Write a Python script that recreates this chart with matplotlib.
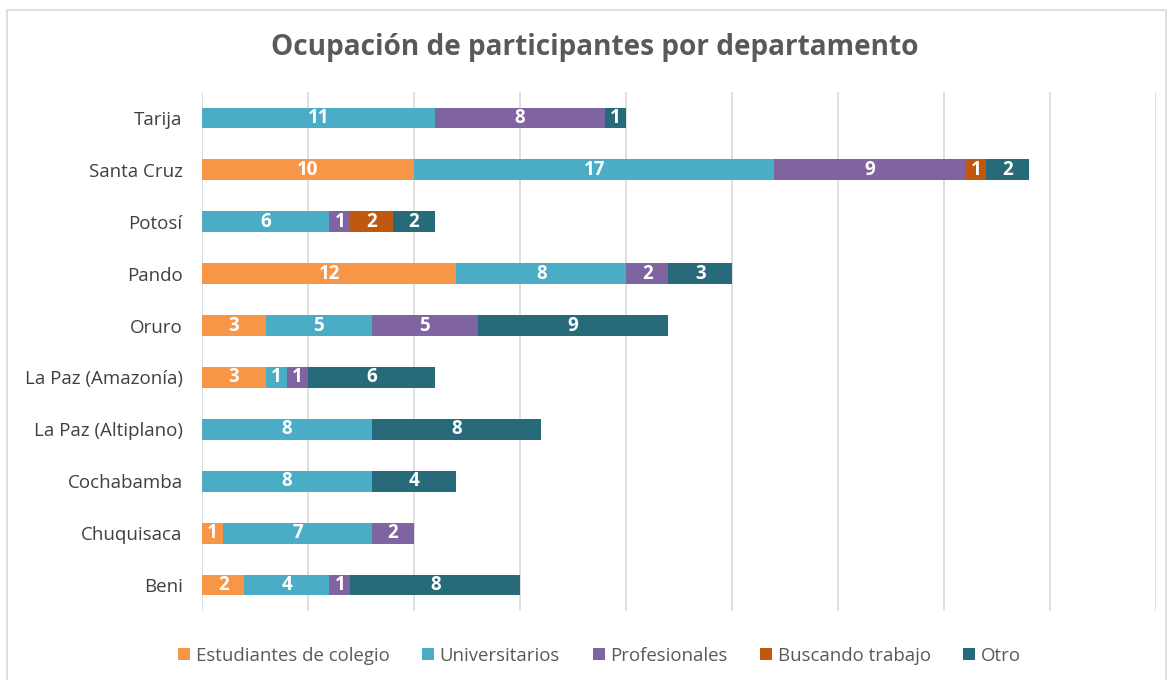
import numpy as np
import matplotlib
matplotlib.use("Agg")
from matplotlib import pyplot as plt
from matplotlib.patches import Rectangle

plt.rcParams['font.family'] = ['Open Sans', 'DejaVu Sans']

# departamentos, de abajo hacia arriba
departamentos = ["Beni", "Chuquisaca", "Cochabamba", "La Paz (Altiplano)",
                 "La Paz (Amazonía)", "Oruro", "Pando", "Potosí",
                 "Santa Cruz", "Tarija"]
series = ["Estudiantes de colegio", "Universitarios", "Profesionales",
          "Buscando trabajo", "Otro"]
estudiantes = [2, 1, 0, 0, 3, 3, 12, 0, 10, 0]
universitarios = [4, 7, 8, 8, 1, 5, 8, 6, 17, 11]
profesionales = [1, 2, 0, 0, 1, 5, 2, 1, 9, 8]
buscando = [0, 0, 0, 0, 0, 0, 0, 2, 1, 0]
otro = [8, 0, 4, 8, 6, 9, 3, 2, 2, 1]
colores = ["#F79646", "#4BACC6", "#8064A2", "#C0580F", "#276B7B"]

valores = [estudiantes, universitarios, profesionales, buscando, otro]

fig = plt.figure(figsize=(11.71, 6.80), dpi=100)
ax = fig.add_axes([0.1725, 0.1015, 0.8147, 0.7632])

y = np.arange(len(departamentos))
left = np.zeros(len(departamentos))
for nombre, vals, col in zip(series, valores, colores):
    vals = np.array(vals, dtype=float)
    ax.barh(y, vals, left=left, height=0.4, color=col, label=nombre, zorder=3)
    for yi, l, v in zip(y, left, vals):
        if v > 0:
            ax.text(l + v / 2, yi, str(int(v)), ha='center', va='center',
                    color='white', fontsize=13.5, fontweight='bold', zorder=4)
    left += vals

ax.set_xlim(0, 45)
ax.set_ylim(-0.5, len(departamentos) - 0.5)
ax.set_xticks(np.arange(0, 46, 5))
ax.set_xticklabels([])
ax.set_yticks(y)
ax.set_yticklabels(departamentos, fontsize=13.5, color='#404040')
ax.tick_params(axis='both', length=0, pad=14)
ax.grid(axis='x', color='#D9D9D9', linewidth=1.2, zorder=0)
for s in ax.spines.values():
    s.set_visible(False)

fig.text(0.508, 0.93, "Ocupación de participantes por departamento",
         ha='center', va='center', fontsize=20.2, fontweight='bold',
         color='#595959')

fig.legend(loc='center', bbox_to_anchor=(0.512, 0.036), ncol=5,
           frameon=False, fontsize=13.4, handlelength=0.65, handleheight=0.65,
           handletextpad=0.3, columnspacing=1.75, labelcolor='#595959')

fig.patches.append(Rectangle((0.006, -0.01), 0.99, 0.995, transform=fig.transFigure,
                             fill=False, edgecolor='#D9D9D9', linewidth=1.2))

fig.savefig("out.png", dpi=100)
